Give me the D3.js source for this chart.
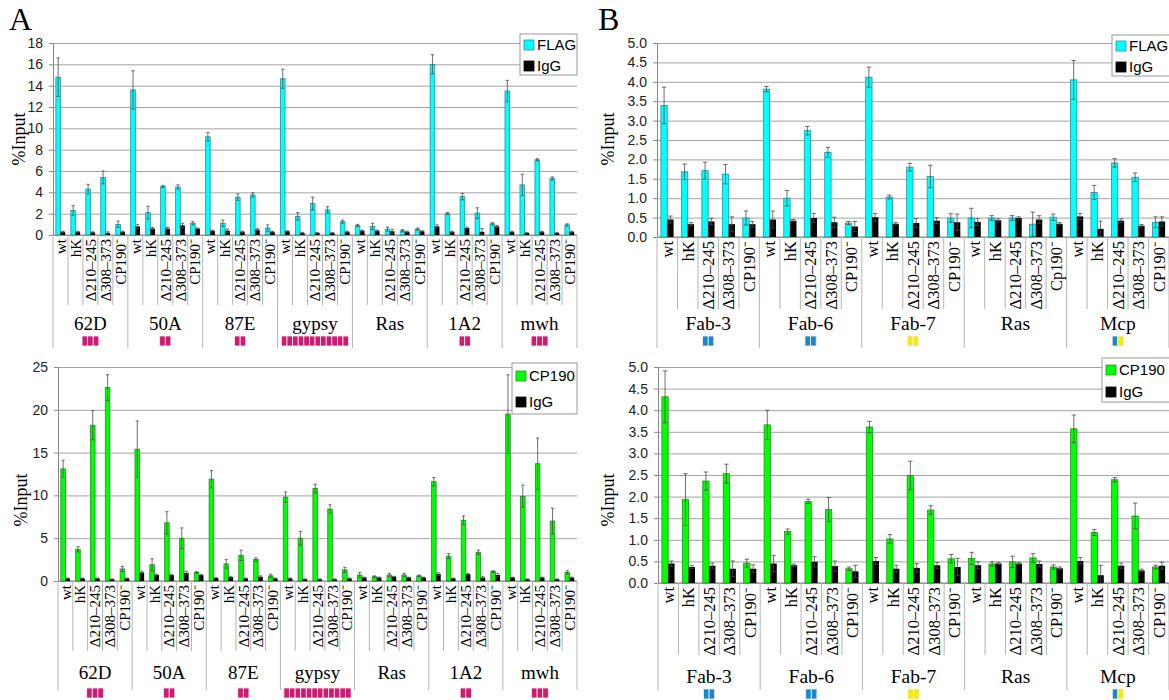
<!DOCTYPE html>
<html>
<head>
<meta charset="utf-8">
<script src="https://cdn.jsdelivr.net/npm/d3@7"></script>
<style>
  body { margin: 0; background: #fff; }
  svg { display: block; }
</style>
</head>
<body>
<svg id="chart" width="1169" height="700"></svg>
<script>
// Categories
const strains = ["wt", "hK", "Δ210–245", "Δ308–373", "CP190⁻"];
const strainsRasB = ["wt", "hK", "Δ210–245", "Δ308–373", "Cp190⁻"];
const lociA = ["62D", "50A", "87E", "gypsy", "Ras", "1A2", "mwh"];
const lociB = ["Fab-3", "Fab-6", "Fab-7", "Ras", "Mcp"];

// Site marks under each locus (p = pink, b = blue, y = yellow)
const marksA = [["p","p","p"], ["p","p"], ["p","p"], ["p","p","p","p","p","p","p","p","p","p","p","p"], [], ["p","p"], ["p","p","p"]];
const marksB = [["b","b"], ["b","b"], ["y","y"], [], ["b","y"]];

// Tick labels
const ticksA1 = [0, 2, 4, 6, 8, 10, 12, 14, 16, 18];
const ticksA2 = [0, 5, 10, 15, 20, 25];
const ticksB = [0, 0.5, 1.0, 1.5, 2.0, 2.5, 3.0, 3.5, 4.0, 4.5, 5.0];

// Panel A, FLAG ChIP (values in groups of 5 strains per locus)
const flagA = [14.8, 2.3, 4.3, 5.4, 1.0,   13.6, 2.1, 4.55, 4.5, 1.1,   9.2, 1.1, 3.55, 3.75, 0.65,
               14.65, 1.75, 2.95, 2.35, 1.25,   0.9, 0.8, 0.55, 0.4, 0.55,   16.0, 2.0, 3.6, 2.05, 1.05,
               13.5, 4.7, 7.05, 5.3, 0.95];
const flagAErr = [1.8, 0.45, 0.45, 0.6, 0.3,   1.8, 0.6, 0.1, 0.2, 0.15,   0.4, 0.3, 0.3, 0.2, 0.3,
                  0.9, 0.35, 0.6, 0.3, 0.15,   0.1, 0.3, 0.2, 0.1, 0.1,   0.9, 0.1, 0.3, 0.5, 0.1,
                  1.0, 1.0, 0.1, 0.15, 0.1];
const igGA1 = [0.3, 0.3, 0.25, 0.2, 0.3,   0.8, 0.6, 0.6, 0.9, 0.6,   0.4, 0.4, 0.3, 0.5, 0.3,
               0.35, 0.2, 0.2, 0.2, 0.3,   0.4, 0.4, 0.35, 0.3, 0.35,   0.8, 0.3, 0.65, 0.3, 0.8,
               0.3, 0.2, 0.3, 0.2, 0.3];
const igGA1Err = [0.05, 0.05, 0.05, 0.1, 0.05,   0.2, 0.1, 0.1, 0.2, 0.05,   0.05, 0.15, 0.05, 0.1, 0.05,
                  0.05, 0.05, 0.05, 0.05, 0.05,   0.05, 0.05, 0.2, 0.05, 0.05,   0.15, 0.05, 0.1, 0.3, 0.1,
                  0.05, 0.05, 0.05, 0.05, 0.05];

// Panel A, CP190 ChIP
const cp190A = [13.1, 3.7, 18.2, 22.6, 1.4,   15.4, 1.9, 6.8, 5.0, 1.0,   11.9, 2.0, 3.0, 2.5, 0.6,
                9.8, 5.0, 10.8, 8.4, 1.3,   0.7, 0.5, 0.7, 0.7, 0.6,   11.6, 2.9, 7.1, 3.35, 1.1,
                19.5, 9.9, 13.7, 7.0, 1.0];
const cp190AErr = [1.0, 0.3, 1.7, 1.5, 0.3,   3.3, 0.7, 1.3, 1.2, 0.1,   1.0, 0.5, 0.6, 0.2, 0.2,
                   0.6, 0.8, 0.5, 0.5, 0.3,   0.3, 0.1, 0.2, 0.2, 0.1,   0.5, 0.3, 0.5, 0.25, 0.1,
                   4.6, 1.3, 3.0, 1.5, 0.2];
const igGA2 = [0.3, 0.3, 0.3, 0.2, 0.3,   1.0, 0.7, 0.7, 0.95, 0.7,   0.35, 0.45, 0.3, 0.5, 0.3,
               0.3, 0.2, 0.2, 0.2, 0.3,   0.4, 0.4, 0.5, 0.4, 0.4,   0.8, 0.3, 0.8, 0.4, 0.7,
               0.4, 0.2, 0.4, 0.2, 0.4];
const igGA2Err = [0.05, 0.05, 0.05, 0.05, 0.05,   0.15, 0.1, 0.1, 0.2, 0.05,   0.05, 0.1, 0.05, 0.1, 0.05,
                  0.05, 0.05, 0.05, 0.05, 0.05,   0.05, 0.05, 0.05, 0.05, 0.05,   0.15, 0.05, 0.1, 0.1, 0.2,
                  0.05, 0.05, 0.05, 0.05, 0.05];

// Panel B, FLAG ChIP
const flagB = [3.39, 1.68, 1.71, 1.62, 0.49,   3.81, 1.0, 2.74, 2.18, 0.36,   4.12, 1.03, 1.80, 1.56, 0.49,
               0.49, 0.49, 0.49, 0.33, 0.51,   4.05, 1.15, 1.91, 1.54, 0.38];
const flagBErr = [0.47, 0.2, 0.22, 0.25, 0.18,   0.07, 0.2, 0.11, 0.13, 0.04,   0.26, 0.05, 0.1, 0.29, 0.11,
                  0.25, 0.06, 0.06, 0.31, 0.08,   0.5, 0.18, 0.11, 0.11, 0.14];
const igGB1 = [0.45, 0.33, 0.40, 0.33, 0.33,   0.45, 0.42, 0.49, 0.38, 0.27,   0.51, 0.34, 0.36, 0.42, 0.38,
               0.39, 0.43, 0.49, 0.45, 0.34,   0.53, 0.21, 0.42, 0.29, 0.40];
const igGB1Err = [0.09, 0.04, 0.08, 0.19, 0.07,   0.22, 0.03, 0.12, 0.13, 0.13,   0.1, 0.03, 0.12, 0.08, 0.21,
                  0.09, 0.04, 0.03, 0.1, 0.03,   0.08, 0.2, 0.05, 0.03, 0.12];

// Panel B, CP190 ChIP
const cp190B = [4.31, 1.93, 2.36, 2.53, 0.46,   3.66, 1.19, 1.89, 1.70, 0.33,   3.61, 1.02, 2.49, 1.69, 0.56,
                0.57, 0.44, 0.49, 0.58, 0.37,   3.57, 1.17, 2.39, 1.55, 0.37];
const cp190BErr = [0.6, 0.6, 0.21, 0.22, 0.09,   0.34, 0.06, 0.05, 0.28, 0.04,   0.13, 0.1, 0.33, 0.1, 0.1,
                   0.14, 0.05, 0.13, 0.1, 0.05,   0.32, 0.07, 0.05, 0.3, 0.04];
const igGB2 = [0.45, 0.37, 0.40, 0.33, 0.33,   0.45, 0.41, 0.49, 0.39, 0.27,   0.51, 0.33, 0.35, 0.41, 0.37,
               0.41, 0.45, 0.45, 0.44, 0.34,   0.51, 0.18, 0.40, 0.29, 0.40];
const igGB2Err = [0.06, 0.03, 0.06, 0.18, 0.09,   0.19, 0.03, 0.12, 0.12, 0.14,   0.08, 0.08, 0.1, 0.07, 0.2,
                  0.08, 0.03, 0.03, 0.07, 0.03,   0.08, 0.23, 0.06, 0.03, 0.08];

const markColor = { p: "#d01a72", b: "#1a86cc", y: "#f4e81a" };
const serif = "'Liberation Serif', 'Times New Roman', serif";
const sans = "'Liberation Sans', Arial, sans-serif";

const svg = d3.select("#chart");

// Panel letters
svg.append("text").attr("x", 9).attr("y", 30).text("A")
  .attr("font-family", serif).attr("font-size", 32);
svg.append("text").attr("x", 598).attr("y", 30).text("B")
  .attr("font-family", serif).attr("font-size", 32);

function drawPanel(p)
{
  const labels = p.loci.flatMap((l, gi) => p.strainsFor(gi));
  const n = labels.length;
  const x = d3.scaleBand().domain(d3.range(n)).range([p.left, p.right]);
  const y = d3.scaleLinear().domain([0, p.max]).range([p.bottom, p.top]);
  const bw = x.bandwidth();
  const g = svg.append("g");

  // Horizontal gridlines
  g.append("g")
    .attr("transform", `translate(${p.left},0)`)
    .call(d3.axisLeft(y).tickValues(p.ticks).tickSize(-(p.right - p.left)).tickFormat(""))
    .call(a => a.select(".domain").remove())
    .selectAll("line").attr("stroke", "#a3a3a3").attr("stroke-width", 1);

  // Y axis with labels
  const yAxis = g.append("g")
    .attr("transform", `translate(${p.left},0)`)
    .call(d3.axisLeft(y).tickValues(p.ticks).tickSize(4).tickPadding(6).tickFormat(p.fmt));
  yAxis.select(".domain").attr("stroke", "#888");
  yAxis.selectAll("line").attr("stroke", "#888");
  yAxis.selectAll("text").attr("font-family", sans).attr("font-size", p.tickSize).attr("fill", "#222");

  // Y title
  g.append("text")
    .attr("transform", `translate(${p.titleX},${p.titleY}) rotate(-90)`)
    .attr("text-anchor", "middle")
    .attr("font-family", serif).attr("font-size", 18)
    .text("%Input");

  // X baseline
  g.append("line")
    .attr("x1", p.left).attr("x2", p.right)
    .attr("y1", y(0)).attr("y2", y(0))
    .attr("stroke", "#888");

  // Category separators, longer at locus boundaries
  g.selectAll(".sep").data(d3.range(n + 1)).join("line")
    .attr("x1", i => p.left + i * bw).attr("x2", i => p.left + i * bw)
    .attr("y1", y(0))
    .attr("y2", i => y(0) + (i % 5 === 0 ? p.longSep : p.shortSep))
    .attr("stroke", "#b5b5b5").attr("stroke-width", 1);

  // Bars
  const barW = bw * 0.31;
  const off = bw * 0.19;
  g.selectAll(".main").data(p.main).join("rect")
    .attr("x", (d, i) => x(i) + off)
    .attr("y", d => y(d))
    .attr("width", barW)
    .attr("height", d => y(0) - y(d))
    .attr("fill", p.color).attr("stroke", p.edge).attr("stroke-width", 0.8);

  g.selectAll(".ctrl").data(p.ctrl).join("rect")
    .attr("x", (d, i) => x(i) + off + barW)
    .attr("y", d => y(d))
    .attr("width", barW)
    .attr("height", d => y(0) - y(d))
    .attr("fill", "#000");

  // Error bars
  function errorBars(vals, errs, dx)
  {
    const cap = barW * 0.35;
    const eg = g.append("g").attr("stroke", "#4a4a4a").attr("stroke-width", 0.8);
    vals.forEach((v, i) =>
    {
      const cx = x(i) + dx;
      const lo = y(Math.max(0, v - errs[i]));
      const hi = y(v + errs[i]);
      eg.append("line").attr("x1", cx).attr("x2", cx).attr("y1", lo).attr("y2", hi);
      eg.append("line").attr("x1", cx - cap).attr("x2", cx + cap).attr("y1", hi).attr("y2", hi);
      eg.append("line").attr("x1", cx - cap).attr("x2", cx + cap).attr("y1", lo).attr("y2", lo);
    });
  }
  errorBars(p.main, p.mainErr, off + barW / 2);
  errorBars(p.ctrl, p.ctrlErr, off + barW * 1.5);

  // Category labels
  g.selectAll(".cat").data(labels).join("text")
    .attr("transform", (d, i) => `translate(${x(i) + bw / 2},${y(0) + 4}) rotate(-90)`)
    .attr("text-anchor", "end")
    .attr("dy", "0.35em")
    .attr("font-family", serif).attr("font-size", p.catSize)
    .text(d => d);

  // Locus labels
  g.selectAll(".locus").data(p.loci).join("text")
    .attr("x", (d, gi) => p.left + (gi * 5 + 2.5) * bw)
    .attr("y", y(0) + p.locusDy)
    .attr("text-anchor", "middle")
    .attr("font-family", serif).attr("font-size", p.locusSize)
    .text(d => d);

  // Binding-site marks
  const sqW = 5.6, sqH = 10;
  p.marks.forEach((m, gi) =>
  {
    const cx = p.left + (gi * 5 + 2.5) * bw;
    const x0 = cx - (m.length * sqW) / 2;
    g.selectAll(null).data(m).enter().append("rect")
      .attr("x", (d, k) => x0 + k * sqW)
      .attr("y", y(0) + p.markDy)
      .attr("width", sqW).attr("height", sqH)
      .attr("fill", d => markColor[d])
      .attr("stroke", "#f2f2f2").attr("stroke-width", 0.8);
  });

  // Legend
  const lg = g.append("g");
  lg.append("rect")
    .attr("x", p.legend.x).attr("y", p.legend.y)
    .attr("width", p.legend.w).attr("height", p.legend.h)
    .attr("fill", "#fff").attr("stroke", "#999");
  const entries = [{ name: p.mainName, fill: p.color, edge: p.edge }, { name: "IgG", fill: "#000", edge: "#000" }];
  entries.forEach((e, k) =>
  {
    const cy = p.legend.rows[k];
    lg.append("rect")
      .attr("x", p.legend.x + 4).attr("y", cy - 5)
      .attr("width", 10).attr("height", 10)
      .attr("fill", e.fill).attr("stroke", e.edge).attr("stroke-width", 0.8);
    lg.append("text")
      .attr("x", p.legend.x + 17).attr("y", cy)
      .attr("dy", "0.36em")
      .attr("font-family", sans).attr("font-size", 15)
      .text(e.name);
  });
}

// Panel A top
drawPanel({
  loci: lociA, strainsFor: () => strains, marks: marksA,
  main: flagA, mainErr: flagAErr, ctrl: igGA1, ctrlErr: igGA1Err,
  mainName: "FLAG", color: "#00ffff", edge: "#2f8f96",
  left: 53, right: 577, top: 43, bottom: 235, max: 18, ticks: ticksA1, fmt: d3.format("d"),
  tickSize: 14, titleX: 25, titleY: 139, catSize: 15,
  shortSep: 70, longSep: 113, locusDy: 95, locusSize: 19, markDy: 101,
  legend: { x: 520, y: 34, w: 57, h: 41, rows: [45, 66] }
});

// Panel A bottom
drawPanel({
  loci: lociA, strainsFor: () => strains, marks: marksA,
  main: cp190A, mainErr: cp190AErr, ctrl: igGA2, ctrlErr: igGA2Err,
  mainName: "CP190", color: "#00ff00", edge: "#2b8a2b",
  left: 58, right: 577, top: 367, bottom: 581, max: 25, ticks: ticksA2, fmt: d3.format("d"),
  tickSize: 14, titleX: 27, titleY: 500, catSize: 15,
  shortSep: 70, longSep: 109, locusDy: 98, locusSize: 19, markDy: 107,
  legend: { x: 512, y: 363, w: 65, h: 51, rows: [376, 402] }
});

// Panel B top
drawPanel({
  loci: lociB, strainsFor: gi => (lociB[gi] === "Ras" ? strainsRasB : strains), marks: marksB,
  main: flagB, mainErr: flagBErr, ctrl: igGB1, ctrlErr: igGB1Err,
  mainName: "FLAG", color: "#00ffff", edge: "#2f8f96",
  left: 657, right: 1169, top: 43, bottom: 237, max: 5, ticks: ticksB, fmt: d3.format(".1f"),
  tickSize: 14, titleX: 614, titleY: 139, catSize: 16.5,
  shortSep: 72, longSep: 111, locusDy: 93, locusSize: 19.5, markDy: 99,
  legend: { x: 1112, y: 35, w: 60, h: 41, rows: [46, 67] }
});

// Panel B bottom
drawPanel({
  loci: lociB, strainsFor: () => strains, marks: marksB,
  main: cp190B, mainErr: cp190BErr, ctrl: igGB2, ctrlErr: igGB2Err,
  mainName: "CP190", color: "#00ff00", edge: "#2b8a2b",
  left: 658, right: 1169, top: 367, bottom: 583, max: 5, ticks: ticksB, fmt: d3.format(".1f"),
  tickSize: 14, titleX: 614, titleY: 500, catSize: 16.5,
  shortSep: 72, longSep: 107, locusDy: 100, locusSize: 19.5, markDy: 106,
  legend: { x: 1102, y: 358, w: 70, h: 44, rows: [370, 392] }
});
</script>
</body>
</html>
